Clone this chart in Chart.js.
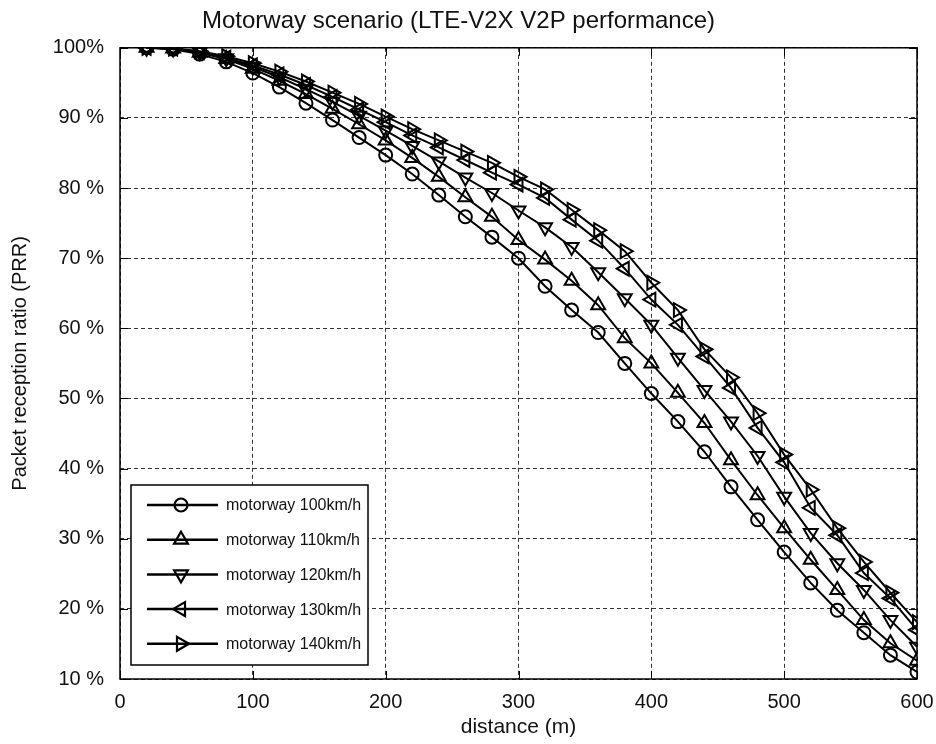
<!DOCTYPE html>
<html lang="en">
  <head>
    <meta charset="UTF-8" />
    <title>Motorway scenario</title>
    <script src="https://cdn.jsdelivr.net/npm/chart.js"></script>
    <style>
      html, body { margin: 0; padding: 0; background: #fff; }
      #wrap { width: 936px; height: 744px; }
    </style>
  </head>
  <body>
    <div id="wrap"><canvas id="prrChart"></canvas></div>

    <script>
      // distance (m) and PRR (%)
      const distance = [20, 40, 60, 80, 100, 120, 140, 160, 180, 200, 220, 240, 260, 280, 300,
        320, 340, 360, 380, 400, 420, 440, 460, 480, 500, 520, 540, 560, 580, 600];
      const prr100 = [100, 99.8, 99.1, 98, 96.4, 94.4, 92.1, 89.7, 87.2, 84.7, 82, 79, 75.9, 73, 70,
        66, 62.6, 59.4, 55, 50.7, 46.7, 42.4, 37.4, 32.7, 28.1, 23.7, 19.8, 16.6, 13.4, 11];
      const prr110 = [100, 99.9, 99.3, 98.4, 97, 95.3, 93.4, 91.3, 89.1, 86.8, 84.3, 81.6, 78.7, 75.9, 72.6,
        69.8, 66.8, 63.3, 58.6, 55, 50.8, 46.5, 41.2, 36.2, 31.5, 27, 22.7, 18.4, 15.1, 12.6];
      const prr120 = [100, 99.9, 99.4, 98.5, 97.3, 95.8, 94.1, 92.3, 90.3, 88.2, 86, 83.8, 81.5, 79.3, 76.8,
        74.4, 71.6, 68, 64.3, 60.5, 55.8, 51.2, 46.7, 41.8, 36, 30.8, 26.5, 22.7, 18.4, 14.6];
      const prr130 = [100, 99.9, 99.4, 98.6, 97.5, 96.2, 94.7, 93, 91.2, 89.4, 87.5, 85.8, 84, 82.2, 80.5,
        78.6, 75.5, 72.5, 68.5, 64.1, 60.5, 56, 51.5, 45.8, 40.9, 34.4, 30.5, 25.1, 21.5, 17];
      const prr140 = [100, 99.9, 99.5, 98.8, 97.8, 96.6, 95.2, 93.6, 92, 90.2, 88.4, 86.8, 85.2, 83.6, 81.6,
        79.8, 76.9, 74, 71, 66.5, 62.6, 57, 53, 47.9, 42, 37, 31.5, 26.7, 22.3, 18.1];

      const seriesLabels = ["motorway 100km/h", "motorway 110km/h", "motorway 120km/h",
        "motorway 130km/h", "motorway 140km/h"];
      const seriesValues = [prr100, prr110, prr120, prr130, prr140];
      const xTicks = [0, 100, 200, 300, 400, 500, 600];
      const yTicks = [10, 20, 30, 40, 50, 60, 70, 80, 90, 100];

      // marker look per series: circle, up, down, left, right
      const markerStyle = ["circle", "triangle", "triangle", "triangle", "triangle"];
      const markerRotation = [0, 0, 180, 270, 90];
      const markerRadius = [6.5, 8, 8, 8, 8];

      const FONT = "'Liberation Sans', Arial, sans-serif";
      const INK = "#111";

      function drawMarker(ctx, style, rotation, radius, x, y) {
        ctx.beginPath();
        if (style === "circle") {
          ctx.arc(x, y, radius, 0, Math.PI * 2);
        } else {
          const r = (rotation * Math.PI) / 180;
          for (let k = 0; k < 3; k++) {
            const a = r - Math.PI / 2 + (k * 2 * Math.PI) / 3;
            const px = x + radius * Math.cos(a);
            const py = y + radius * Math.sin(a);
            if (k === 0) ctx.moveTo(px, py);
            else ctx.lineTo(px, py);
          }
          ctx.closePath();
        }
        ctx.stroke();
      }

      // axes box with inward tick marks (matlab style)
      const axesBox = {
        id: "axesBox",
        afterDatasetsDraw(chart) {
          const { ctx, chartArea: a, scales } = chart;
          ctx.save();
          ctx.strokeStyle = "#000";
          ctx.lineWidth = 1.5;
          ctx.strokeRect(a.left, a.top, a.right - a.left, a.bottom - a.top);
          ctx.lineWidth = 1;
          ctx.beginPath();
          xTicks.forEach((v) => {
            const px = Math.round(scales.x.getPixelForValue(v)) + 0.5;
            ctx.moveTo(px, a.bottom); ctx.lineTo(px, a.bottom - 8);
            ctx.moveTo(px, a.top); ctx.lineTo(px, a.top + 8);
          });
          yTicks.forEach((v) => {
            const py = Math.round(scales.y.getPixelForValue(v)) + 0.5;
            ctx.moveTo(a.left, py); ctx.lineTo(a.left + 8, py);
            ctx.moveTo(a.right, py); ctx.lineTo(a.right - 8, py);
          });
          ctx.stroke();
          ctx.restore();
        },
      };

      // legend box in the lower left corner of the axes
      const cornerLegend = {
        id: "cornerLegend",
        afterDatasetsDraw(chart) {
          const { ctx, chartArea: a } = chart;
          const w = 237, h = 180;
          const x = a.left + 11;
          const y = a.bottom - 14 - h;
          ctx.save();
          ctx.fillStyle = "#fff";
          ctx.fillRect(x, y, w, h);
          ctx.strokeStyle = "#000";
          ctx.lineWidth = 1.5;
          ctx.strokeRect(x, y, w, h);
          chart.data.datasets.forEach((ds, i) => {
            const cy = y + 20 + i * 34.7;
            ctx.strokeStyle = "#000";
            ctx.lineWidth = 2.5;
            ctx.beginPath();
            ctx.moveTo(x + 16, cy);
            ctx.lineTo(x + 87, cy);
            ctx.stroke();
            ctx.lineWidth = 2.2;
            drawMarker(ctx, markerStyle[i], markerRotation[i], markerRadius[i], x + 50, cy);
            ctx.fillStyle = INK;
            ctx.font = "16px " + FONT;
            ctx.textBaseline = "middle";
            ctx.textAlign = "left";
            ctx.fillText(ds.label, x + 95, cy + 1);
          });
          ctx.restore();
        },
      };

      const datasets = seriesLabels.map((label, i) => ({
        label: label,
        data: distance.map((d, j) => ({ x: d, y: seriesValues[i][j] })),
        borderColor: "#000",
        borderWidth: 2,
        pointStyle: markerStyle[i],
        pointRotation: markerRotation[i],
        pointRadius: markerRadius[i],
        pointBorderWidth: 2,
        pointBorderColor: "#000",
        pointBackgroundColor: "rgba(0,0,0,0)",
        tension: 0,
      }));

      const config = {
        type: "line",
        data: { datasets },
        options: {
          responsive: true,
          maintainAspectRatio: false,
          animation: false,
          devicePixelRatio: 1,
          layout: { padding: { left: 0, right: 19, top: 0, bottom: 0 } },
          scales: {
            x: {
              type: "linear",
              min: 0,
              max: 600,
              afterBuildTicks: (scale) => { scale.ticks = xTicks.map((v) => ({ value: v })); },
              afterFit: (scale) => {
                scale.height = 65;
                scale.paddingLeft = 0;
                scale.paddingRight = 0;
              },
              ticks: { color: INK, padding: 11, font: { family: FONT, size: 20 } },
              grid: { color: "#333", lineWidth: 1, drawTicks: false },
              border: { display: false, dash: [4, 3] },
              title: {
                display: true,
                text: "distance (m)",
                color: INK,
                font: { family: FONT, size: 21 },
                padding: { top: 0, bottom: 4 },
              },
            },
            y: {
              min: 10,
              max: 100,
              afterBuildTicks: (scale) => { scale.ticks = yTicks.map((v) => ({ value: v })); },
              afterFit: (scale) => {
                scale.width = 120;
                scale.paddingTop = 0;
                scale.paddingBottom = 0;
              },
              ticks: {
                color: INK,
                padding: 16,
                font: { family: FONT, size: 20 },
                callback: (v) => (v === 100 ? "100%" : v + " %"),
              },
              grid: { color: "#333", lineWidth: 1, drawTicks: false },
              border: { display: false, dash: [4, 3] },
              title: {
                display: true,
                text: "Packet reception ratio (PRR)",
                color: INK,
                font: { family: FONT, size: 20 },
                padding: { top: 8, bottom: 0 },
              },
            },
          },
          plugins: {
            legend: { display: false },
            tooltip: { enabled: false },
            title: {
              display: true,
              text: "Motorway scenario (LTE-V2X V2P performance)",
              color: INK,
              font: { family: FONT, size: 24, weight: "normal" },
              padding: { top: 7, bottom: 12 },
            },
          },
        },
        plugins: [axesBox, cornerLegend],
      };

      const prrChart = new Chart(document.getElementById("prrChart"), config);
    </script>
  </body>
</html>
